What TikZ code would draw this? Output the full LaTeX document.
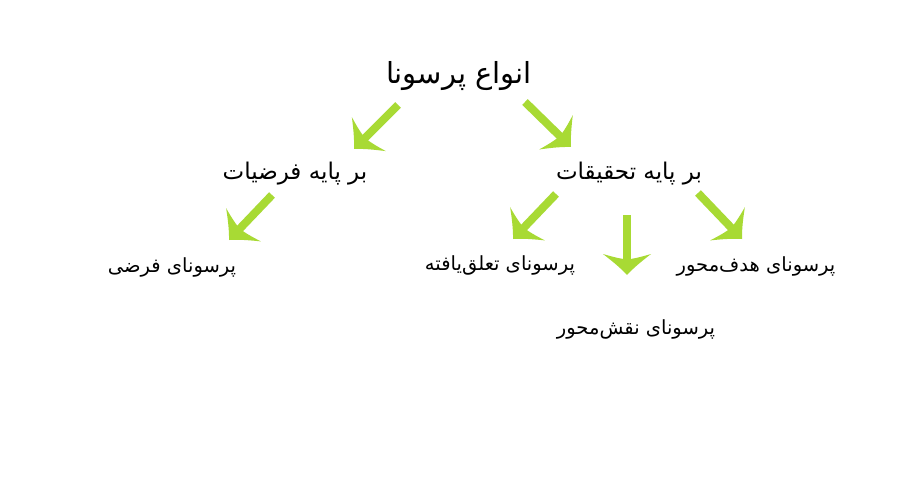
\documentclass[tikz,border=0pt]{standalone}
\usepackage{fontspec}
\usetikzlibrary{arrows.meta}
\TeXXeTstate=1
\newfontfamily\arabicfont[Script=Arabic]{DejaVu Sans}
\definecolor{arrowgreen}{RGB}{168,218,52}
\pgfdeclarearrow{
  name = Leafy,
  parameters = {\the\pgfarrowlength,\the\pgfarrowwidth},
  setup code = {
    \pgfarrowssettipend{0pt}
    \pgfarrowssetlineend{-0.55\pgfarrowlength}
    \pgfarrowssetvisualbackend{-0.75\pgfarrowlength}
    \pgfarrowssetbackend{-\pgfarrowlength}
    \pgfarrowshullpoint{0pt}{0pt}
    \pgfarrowsupperhullpoint{-\pgfarrowlength}{.5\pgfarrowwidth}
    \pgfarrowssavethe\pgfarrowlength
    \pgfarrowssavethe\pgfarrowwidth
  },
  drawing code = {
    \pgfpathmoveto{\pgfpointorigin}
    \pgfpathcurveto{\pgfpoint{-.4\pgfarrowlength}{.16\pgfarrowwidth}}{\pgfpoint{-.75\pgfarrowlength}{.36\pgfarrowwidth}}{\pgfpoint{-\pgfarrowlength}{.5\pgfarrowwidth}}
    \pgfpathcurveto{\pgfpoint{-.85\pgfarrowlength}{.28\pgfarrowwidth}}{\pgfpoint{-.75\pgfarrowlength}{.1\pgfarrowwidth}}{\pgfpoint{-.75\pgfarrowlength}{0pt}}
    \pgfpathcurveto{\pgfpoint{-.75\pgfarrowlength}{-.1\pgfarrowwidth}}{\pgfpoint{-.85\pgfarrowlength}{-.28\pgfarrowwidth}}{\pgfpoint{-\pgfarrowlength}{-.5\pgfarrowwidth}}
    \pgfpathcurveto{\pgfpoint{-.75\pgfarrowlength}{-.36\pgfarrowwidth}}{\pgfpoint{-.4\pgfarrowlength}{-.16\pgfarrowwidth}}{\pgfpointorigin}
    \pgfpathclose
    \pgfusepathqfill
  },
  defaults = {length = 20pt, width = 48pt}
}
\tikzset{
  bigarrow/.style={draw=arrowgreen, fill=arrowgreen, line width=8pt,
    -{Leafy[length=21pt,width=48pt]}},
  title/.style={font=\arabicfont\fontsize{29}{34}\selectfont, inner sep=0pt},
  mid/.style={font=\arabicfont\fontsize{23}{28}\selectfont, inner sep=0pt},
  leaf/.style={font=\arabicfont\fontsize{19.5}{24}\selectfont, inner sep=0pt}
}
\begin{document}
\begin{tikzpicture}[x=1pt,y=-1pt]
\useasboundingbox[fill=white] (0,0) rectangle (900,500);
\node[title] (root) at (459,76) {\beginR انواع پرسونا\endR};
\node[mid] (hyp) at (295,174) {\beginR بر پایه فرضیات\endR};
\node[mid] (res) at (629,174) {\beginR بر پایه تحقیقات\endR};
\node[leaf] (fict) at (172,267) {\beginR پرسونای فرضی\endR};
\node[leaf] (engaged) at (500,265) {\beginR پرسونای تعلق‌یافته\endR};
\node[leaf] (goal) at (756,266) {\beginR پرسونای هدف‌محور\endR};
\node[leaf] (role) at (636,329) {\beginR پرسونای نقش‌محور\endR};
\coordinate (a1s) at (398,105); \coordinate (a1e) at (354,149);
\coordinate (a2s) at (525,102); \coordinate (a2e) at (571,147);
\coordinate (a3s) at (272,195); \coordinate (a3e) at (229,240);
\coordinate (a4s) at (556,194); \coordinate (a4e) at (513,239);
\coordinate (a5s) at (627,215); \coordinate (a5e) at (627,275);
\coordinate (a6s) at (698,193); \coordinate (a6e) at (742,239);
\draw[bigarrow] (a1s) -- (a1e);
\draw[bigarrow] (a2s) -- (a2e);
\draw[bigarrow] (a3s) -- (a3e);
\draw[bigarrow] (a4s) -- (a4e);
\draw[bigarrow] (a5s) -- (a5e);
\draw[bigarrow] (a6s) -- (a6e);
\end{tikzpicture}
\end{document}
